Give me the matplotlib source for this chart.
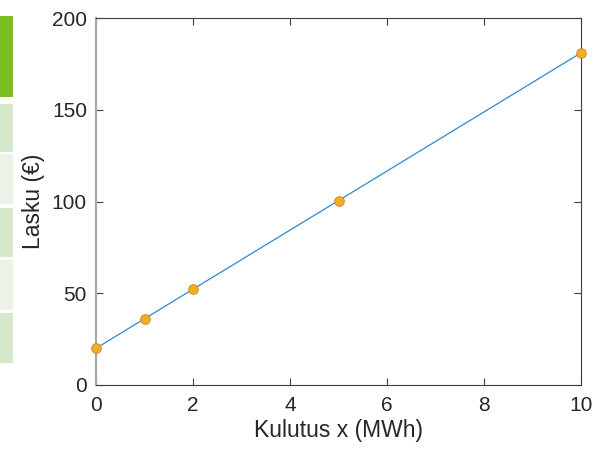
"""Electricity bill as a function of consumption."""

import matplotlib.pyplot as plt
from matplotlib.patches import Rectangle

# Consumption (MWh) and the resulting bill (EUR)
consumption_mwh = [0, 1, 2, 5, 10]
bill_eur = [20, 36.1, 52.2, 100.5, 181]

x_ticks = [0, 2, 4, 6, 8, 10]
y_ticks = [0, 50, 100, 150, 200]

LINE_COLOR = "#2a8ad0"
MARKER_FACE = "#edb120"
MARKER_EDGE = "#e07a3a"
TEXT_COLOR = "#262626"

plt.rcParams["font.family"] = ["Liberation Sans", "DejaVu Sans"]

fig = plt.figure(figsize=(6.02, 4.51), dpi=100, facecolor="white")

# Side strip of coloured tabs at the left edge (pixel coords, top-down)
tabs = [
    (16, 97, "#7bbe24"),
    (104, 152, "#d6e8cc"),
    (154, 204, "#eaf3e5"),
    (208, 257, "#d6e8cc"),
    (260, 310, "#eaf3e5"),
    (313, 363, "#d6e8cc"),
]
W, H = 602, 451
for top, bottom, color in tabs:
    fig.patches.append(Rectangle((0, 1 - bottom / H), 13 / W, (bottom - top) / H,
                                 transform=fig.transFigure, facecolor=color,
                                 edgecolor="none", zorder=0))

ax = fig.add_axes([96 / W, 1 - 385 / H, 485 / W, 367 / H])
ax.plot(consumption_mwh, bill_eur, color=LINE_COLOR, linewidth=0.9,
        marker="o", markersize=7, markerfacecolor=MARKER_FACE,
        markeredgecolor=MARKER_EDGE, markeredgewidth=0.6, clip_on=False, zorder=3)

ax.set_xlim(0, 10)
ax.set_ylim(0, 200)
ax.set_xticks(x_ticks)
ax.set_yticks(y_ticks)
ax.tick_params(direction="in", top=True, right=True, length=5, width=0.8,
               colors="#404040", labelcolor=TEXT_COLOR, labelsize=15)
ax.tick_params(axis="x", pad=8)
ax.tick_params(axis="y", pad=6.5)

for side in ("top", "right", "bottom"):
    ax.spines[side].set_color("#404040")
    ax.spines[side].set_linewidth(0.8)
ax.spines["left"].set_color("#a8a8a8")
ax.spines["left"].set_linewidth(1.6)

ax.set_xlabel("Kulutus x (MWh)", fontsize=16.5, color=TEXT_COLOR, labelpad=3)
ax.set_ylabel("Lasku (€)", fontsize=16.5, color=TEXT_COLOR, labelpad=5)

fig.savefig("out.png", dpi=100, facecolor="white")
